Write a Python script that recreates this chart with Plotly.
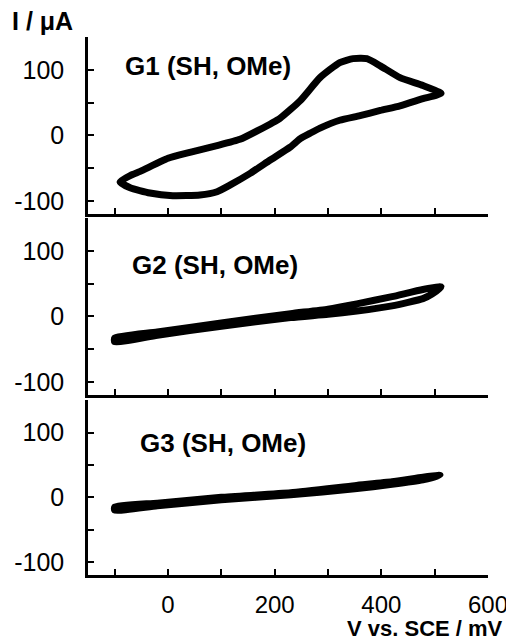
import plotly.graph_objects as go
from plotly.subplots import make_subplots

# ---- data ----
# G1 (SH, OMe): closed CV loop, potential in mV, current in uA
g1_v = [-90, -70, -52, 0, 41, 90, 135, 170, 210, 248, 285, 322, 347, 373, 398, 435, 478, 512,
        478, 435, 398, 360, 322, 285, 266, 248, 229, 191, 154, 116, 92, 60, 9, -34, -71, -90]
g1_i = [-71, -61, -55, -35, -26, -16, -6, 8, 26, 53, 88, 111, 117, 117, 106, 88, 76, 64,
        56, 45, 38, 30, 23, 11, 3, -5, -18, -38, -58, -76, -86, -91, -92, -88, -80, -71]

# G2 (SH, OMe)
g2_v = [-100, -20, 100, 230, 300, 354, 420, 478, 512, 495, 478, 420, 354, 300, 230, 100, -20, -100, -100]
g2_i = [-33, -24, -10, 4, 11, 19, 30, 41, 45, 34, 27, 16, 8, 3, -2, -15, -29, -39, -33]

# G3 (SH, OMe)
g3_v = [-100, -20, 100, 230, 350, 420, 478, 510, 478, 420, 350, 230, 100, -20, -100, -100]
g3_i = [-15, -9, 0, 7, 18, 24, 31, 34, 27, 20, 13, 4, -4, -13, -20, -15]

panel_labels = ["G1 (SH, OMe)", "G2 (SH, OMe)", "G3 (SH, OMe)"]
x_tickvals = [-100, 0, 100, 200, 300, 400, 500, 600]
x_ticktext = ["", "0", "", "200", "", "400", "", "600"]
y_tickvals = [-100, -50, 0, 50, 100, 150]
y_ticktext = ["-100", "", "0", "", "100", ""]
x_title = "V vs. SCE / mV"
y_title = "I / \u03bcA"

series = [(g1_v, g1_i), (g2_v, g2_i), (g3_v, g3_i)]

fig = make_subplots(rows=3, cols=1, shared_xaxes=False, vertical_spacing=0.0)

FONT = "Liberation Sans, Arial, Helvetica, sans-serif"

for k, (v, i) in enumerate(series):
    fig.add_trace(go.Scatter(x=v, y=i, mode="lines",
                             line=dict(color="black", width=7, shape="spline", smoothing=0.5),
                             showlegend=False), row=k + 1, col=1)

# domains (paper fractions) for the three stacked panels
domains = [(0.671, 1.0), (0.3346, 0.6636), (0.0, 0.325)]
for k in range(3):
    xa = "xaxis" if k == 0 else f"xaxis{k+1}"
    ya = "yaxis" if k == 0 else f"yaxis{k+1}"
    fig.layout[xa].update(
        range=[-150, 600], domain=[0, 1], showgrid=False, zeroline=False,
        showline=True, linecolor="black", linewidth=2.5,
        ticks="inside", ticklen=6, tickwidth=2, tickcolor="black",
        tickvals=x_tickvals, ticktext=x_ticktext if k == 2 else [""] * len(x_tickvals),
        tickfont=dict(family=FONT, size=24, color="black"),
        ticklabelstandoff=6, automargin=False,
    )
    fig.layout[ya].update(
        range=[-120, 150], domain=list(domains[k]), showgrid=False, zeroline=False,
        showline=True, linecolor="black", linewidth=2.5,
        ticks="inside", ticklen=6, tickwidth=2, tickcolor="black",
        tickvals=y_tickvals, ticktext=y_ticktext,
        tickfont=dict(family=FONT, size=25, color="black"),
        ticklabelstandoff=16, automargin=False,
    )

ann_pos = [(0.0875, 0.836), (0.105, 0.734), (0.125, 0.754)]
for k, txt in enumerate(panel_labels):
    xr = "x domain" if k == 0 else f"x{k+1} domain"
    yr = "y domain" if k == 0 else f"y{k+1} domain"
    fig.add_annotation(text=f"<b>{txt}</b>", xref=xr, yref=yr, x=ann_pos[k][0], y=ann_pos[k][1],
                       xanchor="left", yanchor="middle", showarrow=False,
                       font=dict(family=FONT, size=26, color="black"))

fig.add_annotation(text=f"<b>{y_title}</b>", xref="paper", yref="paper", x=-0.195, y=1.03,
                   xanchor="left", yanchor="middle", showarrow=False,
                   font=dict(family=FONT, size=25, color="black"))
fig.add_annotation(text=f"<b>{x_title}</b>", xref="paper", yref="paper", x=1.0425, y=-0.1,
                   xanchor="right", yanchor="middle", showarrow=False,
                   font=dict(family=FONT, size=22, color="black"))

# the page body adds an 8 px margin, so the figure is 8 px smaller and margins shifted
fig.update_layout(width=506, height=632, margin=dict(l=80, r=26, t=29, b=65, autoexpand=False),
                  plot_bgcolor="white", paper_bgcolor="white",
                  font=dict(family=FONT, color="black"))

fig.write_html("out.html")
